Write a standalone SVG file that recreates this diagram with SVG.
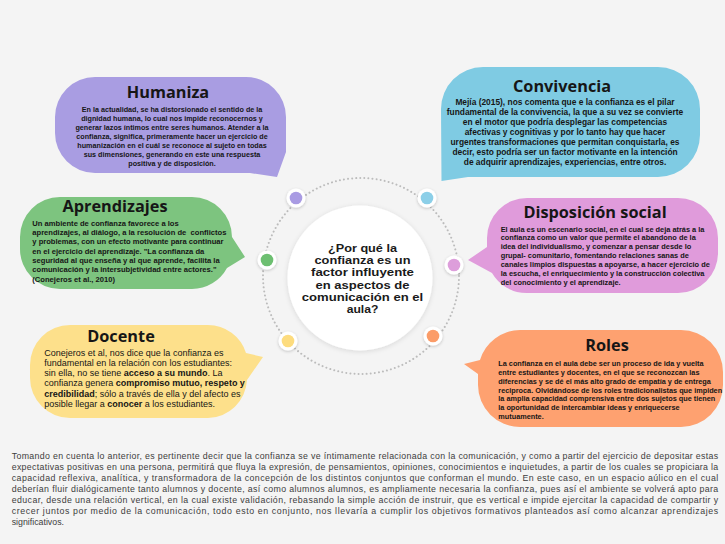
<svg xmlns="http://www.w3.org/2000/svg" width="725" height="544" viewBox="0 0 725 544">
<defs>
<filter id="sh" x="-30%" y="-30%" width="160%" height="160%">
<feDropShadow dx="0" dy="1" stdDeviation="1.5" flood-color="#000" flood-opacity="0.22"/>
</filter>
<filter id="shc" x="-20%" y="-20%" width="140%" height="140%">
<feDropShadow dx="0" dy="1" stdDeviation="2.5" flood-color="#000" flood-opacity="0.12"/>
</filter>
</defs>
<style>
text{font-family:"Liberation Sans",Arial,sans-serif;fill:#161616;}
.ti{font-family:"Open Sans","Liberation Sans",sans-serif;font-size:16.3px;font-weight:700;text-anchor:middle;}
.bd{font-weight:700;}
.c{text-anchor:middle;}
.q{font-size:10.8px;font-weight:700;text-anchor:middle;fill:#1a1a1a;}
.p{font-size:8.8px;fill:#3d3d3d;}
.ring{fill:none;stroke:#bcbcbc;stroke-width:2;stroke-dasharray:0.01 4.1;stroke-linecap:round;}
.dw{fill:#fff;filter:url(#sh);}
</style>
<rect width="725" height="544" fill="#f4f4f4"/>

<g id="connectors">
<circle class="ring" cx="361" cy="276" r="98"/>
</g>

<g id="center">
<circle cx="360" cy="278" r="72.5" fill="#fff" filter="url(#shc)"/>
<text class="q" x="362.5" y="252" textLength="69" lengthAdjust="spacingAndGlyphs">¿Por qué la</text>
<text class="q" x="362.5" y="264.2" textLength="96" lengthAdjust="spacingAndGlyphs">confianza es un</text>
<text class="q" x="362.5" y="276.4" textLength="103" lengthAdjust="spacingAndGlyphs">factor influyente</text>
<text class="q" x="362.5" y="288.6" textLength="94" lengthAdjust="spacingAndGlyphs">en aspectos de</text>
<text class="q" x="362.5" y="300.8" textLength="121.5" lengthAdjust="spacingAndGlyphs">comunicación en el</text>
<text class="q" x="362.5" y="313" textLength="31.7" lengthAdjust="spacingAndGlyphs">aula?</text>
</g>

<g id="dots">
<circle class="dw" cx="296" cy="198" r="9.5"/><circle cx="296" cy="198" r="6.3" fill="#a99be3"/>
<circle class="dw" cx="427" cy="198" r="9.5"/><circle cx="427" cy="198" r="6.3" fill="#8ccfe8"/>
<circle class="dw" cx="267" cy="260" r="9.5"/><circle cx="267" cy="260" r="6.3" fill="#6dbf71"/>
<circle class="dw" cx="454" cy="265" r="9.5"/><circle cx="454" cy="265" r="6.3" fill="#dd9edb"/>
<circle class="dw" cx="288" cy="341" r="9.5"/><circle cx="288" cy="341" r="6.3" fill="#fddc7e"/>
<circle class="dw" cx="433" cy="336" r="9.5"/><circle cx="433" cy="336" r="6.3" fill="#fb9c68"/>
</g>

<g id="humaniza">
<path d="M95,77 H246 A40,40 0 0 1 286,117 V152 L277,177 L250,173 H95 A40,40 0 0 1 55,133 V117 A40,40 0 0 1 95,77 Z" fill="#a99de2"/>
<text class="ti" x="168" y="98">Humaniza</text>
<g class="c bd" font-size="7.2">
<text x="172" y="111.5">En la actualidad, se ha distorsionado el sentido de la</text>
<text x="172" y="120.5">dignidad humana, lo cual nos impide reconocernos y</text>
<text x="172" y="129.5">generar lazos íntimos entre seres humanos. Atender a la</text>
<text x="172" y="138.5">confianza, significa, primeramente hacer un ejercicio de</text>
<text x="172" y="147.5">humanización en el cuál se reconoce al sujeto en todas</text>
<text x="172" y="156.5">sus dimensiones, generando en este una respuesta</text>
<text x="172" y="166">positiva y de disposición.</text>
</g>
</g>

<g id="convivencia">
<path d="M483,67 H658 A42,42 0 0 1 700,109 V135 A42,42 0 0 1 658,177 H468 L441.5,181 L441,109 A42,42 0 0 1 483,67 Z" fill="#7fcbe3"/>
<text class="ti" x="562" y="92">Convivencia</text>
<g class="c bd" font-size="8.4">
<text x="565" y="105">Mejía (2015), nos comenta que e la confianza es el pilar</text>
<text x="565" y="115">fundamental de la convivencia, la que a su vez se convierte</text>
<text x="565" y="125">en el motor que podría desplegar las competencias</text>
<text x="565" y="135">afectivas y cognitivas y por lo tanto hay que hacer</text>
<text x="565" y="145">urgentes transformaciones que permitan conquistarla, es</text>
<text x="565" y="155">decir, esto podría ser un factor motivante en la intención</text>
<text x="565" y="165">de adquirir aprendizajes, experiencias, entre otros.</text>
</g>
</g>

<g id="aprendizajes">
<path d="M60,197 H192 A40,40 0 0 1 232,237 L245,257 L227,268 A40,40 0 0 1 192,289 H60 A40,40 0 0 1 20,249 V237 A40,40 0 0 1 60,197 Z" fill="#7dc47f"/>
<text class="ti" x="115" y="212">Aprendizajes</text>
<g class="bd" font-size="7.6">
<text x="32.3" y="225.5">Un ambiente de confianza favorece a los</text>
<text x="32.3" y="234.9" xml:space="preserve">aprendizajes, al diálogo, a la resolución de  conflictos</text>
<text x="32.3" y="244.2">y problemas, con un efecto motivante para continuar</text>
<text x="32.3" y="253.5">en el ejercicio del aprendizaje. "La confianza da</text>
<text x="32.3" y="262.9">seguridad al que enseña y al que aprende, facilita la</text>
<text x="32.3" y="272.2">comunicación y la intersubjetividad entre actores."</text>
<text x="32.3" y="281.5">(Conejeros et al., 2010)</text>
</g>
</g>

<g id="disposicion-social">
<path d="M527,198 H678 A40,40 0 0 1 718,238 V253 A40,40 0 0 1 678,293 H527 A40,40 0 0 1 492,273 L468,260 L487,247 V238 A40,40 0 0 1 527,198 Z" fill="#e09bdb"/>
<text class="ti" x="595" y="218">Disposición social</text>
<g class="bd" font-size="7.4">
<text x="500.7" y="231.5">El aula es un escenario social, en el cual se deja atrás a la</text>
<text x="500.7" y="240.4">confianza como un valor que permite el abandono de la</text>
<text x="500.7" y="249.3">idea del individualismo, y comenzar a pensar desde lo</text>
<text x="500.7" y="258.1">grupal- comunitario, fomentando relaciones sanas de</text>
<text x="500.7" y="267">canales limpios dispuestas a apoyarse, a hacer ejercicio de</text>
<text x="500.7" y="275.9">la escucha, el enriquecimiento y la construcción colectiva</text>
<text x="500.7" y="284.8">del conocimiento y el aprendizaje.</text>
</g>
</g>

<g id="docente">
<path d="M70,325 H208 A40,40 0 0 1 246,353 L263,357 L247,380 A40,40 0 0 1 208,418 H70 A40,40 0 0 1 30,378 V365 A40,40 0 0 1 70,325 Z" fill="#fde08b"/>
<text class="ti" x="121" y="342">Docente</text>
<g font-size="9">
<text x="44.3" y="355.5">Conejeros et al, nos dice que la confianza es</text>
<text x="44.3" y="365.8">fundamental en la relación con los estudiantes:</text>
<text x="44.3" y="376.1">sin ella, no se tiene <tspan class="bd">acceso a su mundo</tspan>. La</text>
<text x="44.3" y="386.4">confianza genera <tspan class="bd">compromiso mutuo, respeto y</tspan></text>
<text x="44.3" y="396.7"><tspan class="bd">credibilidad</tspan>; sólo a través de ella y del afecto es</text>
<text x="44.3" y="407">posible llegar a <tspan class="bd">conocer</tspan> a los estudiantes.</text>
</g>
</g>

<g id="roles">
<path d="M520,330 H681 A42,42 0 0 1 723,372 V385 A42,42 0 0 1 681,427 H520 A42,42 0 0 1 478,385 V374 L464,364 L480,360 A42,42 0 0 1 520,330 Z" fill="#fea170"/>
<text class="ti" x="607" y="351">Roles</text>
<g class="bd" font-size="7.3">
<text x="498.3" y="366.2">La confianza en el aula debe ser un proceso de ida y vuelta</text>
<text x="498.3" y="375">entre estudiantes y docentes, en el que se reconozcan las</text>
<text x="498.3" y="383.8">diferencias y se dé el más alto grado de empatía y de entrega</text>
<text x="498.3" y="392.6">reciproca. Olvidándose de los roles tradicionalistas que impiden</text>
<text x="498.3" y="401.4">la amplia capacidad comprensiva entre dos sujetos que tienen</text>
<text x="498.3" y="410.2">la oportunidad de intercambiar ideas y enriquecerse</text>
<text x="498.3" y="419">mutuamente.</text>
</g>
</g>

<g id="conclusion">
<text class="p" x="11.7" y="459.1" textLength="706.5" lengthAdjust="spacing">Tomando en cuenta lo anterior, es pertinente decir que la confianza se ve íntimamente relacionada con la comunicación, y como a partir del ejercicio de depositar estas</text>
<text class="p" x="11.7" y="470" textLength="706.5" lengthAdjust="spacing">expectativas positivas en una persona, permitirá que fluya la expresión, de pensamientos, opiniones, conocimientos e inquietudes, a partir de los cuales se propiciara la</text>
<text class="p" x="11.7" y="480.9" textLength="706.5" lengthAdjust="spacing">capacidad reflexiva, analítica, y transformadora de la concepción de los distintos conjuntos que conforman el mundo. En este caso, en un espacio aúlico en el cual</text>
<text class="p" x="11.7" y="491.8" textLength="706.5" lengthAdjust="spacing">deberían fluir dialógicamente tanto alumnos y docente, así como alumnos alumnos, es ampliamente necesaria la confianza, pues así el ambiente se volverá apto para</text>
<text class="p" x="11.7" y="502.7" textLength="706.5" lengthAdjust="spacing">educar, desde una relación vertical, en la cual existe validación, rebasando la simple acción de instruir, que es vertical e impide ejercitar la capacidad de compartir y</text>
<text class="p" x="11.7" y="513.6" textLength="706.5" lengthAdjust="spacing">crecer juntos por medio de la comunicación, todo esto en conjunto, nos llevaría a cumplir los objetivos formativos planteados así como alcanzar aprendizajes</text>
<text class="p" x="11.7" y="524.5">significativos.</text>
</g>
</svg>
